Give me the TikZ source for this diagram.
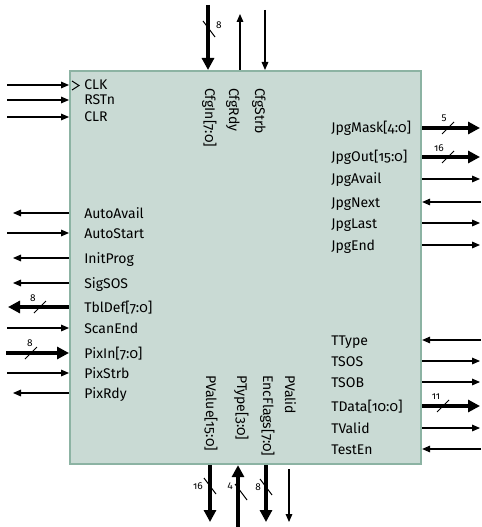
\documentclass[tikz,border=0pt]{standalone}
\usepackage{fontspec}
\setmainfont{Fira Sans}[Numbers=OldStyle]
\usetikzlibrary{arrows.meta}
\definecolor{blkfill}{HTML}{C9DAD4}
\definecolor{blkedge}{HTML}{8CB3A3}

\begin{document}
\begin{tikzpicture}[x=0.75pt, y=-0.75pt,
  sigin/.style={line width=0.8pt, -{Triangle[length=6pt, width=5pt]}},
  sigout/.style={line width=0.8pt, {Triangle[length=6pt, width=5pt]}-},
  busin/.style={line width=3pt, -{Triangle[length=9pt, width=9pt]}},
  busout/.style={line width=3pt, {Triangle[length=9pt, width=9pt]}-},
  pin/.style={font=\fontsize{10.5}{12}\selectfont, inner sep=0pt, text height=7.5pt, text depth=0pt, anchor=west},
  vpin/.style={pin, rotate=-90},
  busnum/.style={font=\fontsize{7.5}{8}\selectfont, inner sep=0pt},
  slash/.style={line width=0.75pt}]

\useasboundingbox (0,0) rectangle (481,527);

% Block
\node (blk) [draw=blkedge, fill=blkfill, line width=1.6pt, anchor=north west,
  minimum width=263.25pt, minimum height=294.75pt, inner sep=0pt] at (69,70) {};

% Clock marker
\draw[slash] (72,81) -- (79,85.5) -- (72,90);

% Left side pins
\foreach \y/\x/\id/\txt/\kind in {85/7/clk/CLK/sigin, 100/7/rstn/RSTn/sigin,
    117/7/clr/CLR/sigin, 213/13/autoavail/AutoAvail/sigout,
    233/7/autostart/AutoStart/sigin, 258/13/initprog/InitProg/sigout,
    283/13/sigsos/SigSOS/sigout, 307/8/tbldef/TblDef[7:0]/busout,
    328/7/scanend/ScanEnd/sigin, 353/6/pixin/PixIn[7:0]/busin,
    373/7/pixstrb/PixStrb/sigin, 393/13/pixrdy/PixRdy/sigout} {
  \node[pin] (\id) at (84,\y) {\txt};
  \coordinate (\id-o) at (\x,\y);
  \draw[\kind] (\id-o) -- (blk.west |- \id-o);
}

% Right side pins
\foreach \y/\x/\id/\txt/\kind in {128/480/jpgmask/JpgMask[4:0]/busout,
    157/480/jpgout/JpgOut[15:0]/busout, 179/480/jpgavail/JpgAvail/sigout,
    202/481/jpgnext/JpgNext/sigin, 223/480/jpglast/JpgLast/sigout,
    245/480/jpgend/JpgEnd/sigout, 340/481/ttype/TType/sigin,
    361/480/tsos/TSOS/sigout, 382/480/tsob/TSOB/sigout,
    406/480/tdata/TData[10:0]/busout, 428/480/tvalid/TValid/sigout,
    449/481/testen/TestEn/sigin} {
  \node[pin] (\id) at (331,\y) {\txt};
  \coordinate (\id-o) at (\x,\y);
  \draw[\kind] (\id-o) -- (blk.east |- \id-o);
}

% Top pins
\foreach \x/\lx/\ox/\oy/\id/\txt/\kind in {208/210/208/5/cfgin/CfgIn[7:0]/busin,
    240/234/240/14/cfgrdy/CfgRdy/sigout, 265/260/265/10/cfgstrb/CfgStrb/sigin} {
  \node[vpin] (\id) at (\lx,88) {\txt};
  \coordinate (\id-o) at (\ox,\oy);
  \draw[\kind] (\id-o) -- (blk.north -| \id-o);
}

% Bottom pins
\foreach \lx/\ox/\oy/\id/\txt/\kind in {211/210/522/pvalue/PValue[15:0]/busout,
    242/238/527/ptype/PType[3:0]/busin, 268/266/522/encflags/EncFlags[7:0]/busout} {
  \node[vpin] (\id) at (\lx,375) {\txt};
  \coordinate (\id-o) at (\ox,\oy);
  \draw[\kind] (\id-o) -- (blk.south -| \id-o);
}
\node[vpin] (pvalid) at (290,375) {PValid};
\coordinate (pvalid-o) at (289,522);
\draw[sigout, shorten >=3pt] (pvalid-o) -- (blk.south -| pvalid-o);

% Bus widths, horizontal
\foreach \cx/\cy/\nx/\ny/\n/\id in {40/307/33/298/8/w-tbldef, 31/353/30/343/8/w-pixin,
    448/128/444/118/5/w-jpgmask, 448/157/439/148/16/w-jpgout,
    443/406/436/397/11/w-tdata} {
  \draw[slash] (\cx-6,\cy+6) -- (\cx+6,\cy-6);
  \node[busnum] (\id) at (\nx,\ny) {\n};
}

% Bus widths, vertical
\foreach \cx/\cy/\nx/\ny/\n/\id in {209/29/219/25/8/w-cfgin, 210/486/198/486/16/w-pvalue,
    241/492/230/486/4/w-ptype, 266/487/258/487/8/w-encflags} {
  \draw[slash] (\cx-6,\cy-8) -- (\cx+6,\cy+8);
  \node[busnum] (\id) at (\nx,\ny) {\n};
}

\end{tikzpicture}
\end{document}
